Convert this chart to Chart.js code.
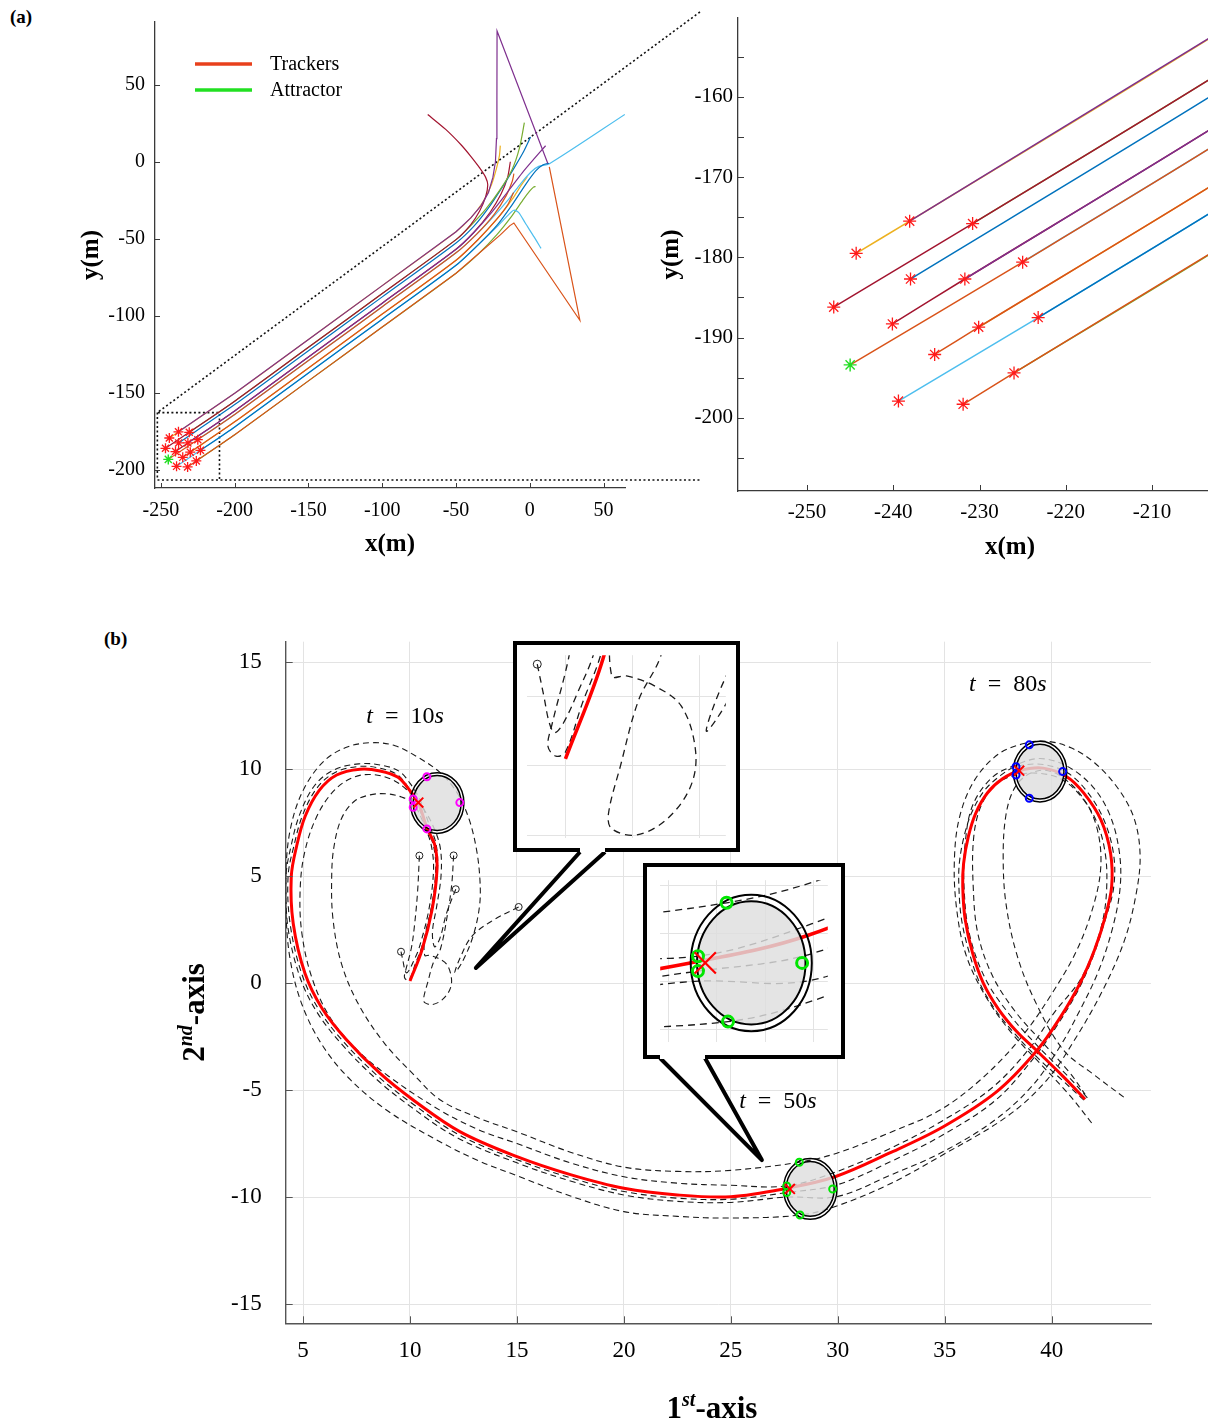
<!DOCTYPE html>
<html>
<head>
<meta charset="utf-8">
<script src="https://cdn.jsdelivr.net/npm/chart.js@4.4.0/dist/chart.umd.min.js"></script>
<style>
  html, body { margin: 0; background: #fff; }
  body { position: relative; width: 1208px; height: 1423px; overflow: hidden; }
  canvas { position: absolute; }
  .panel { position: absolute; font: bold 19px 'Liberation Serif', 'Times New Roman', serif; }
</style>
</head>
<body>
<div class="panel" style="left:10px;top:6px">(a)</div>
<div class="panel" style="left:104px;top:628px">(b)</div>
<canvas id="trajChart" width="710" height="565" style="left:0;top:0"></canvas>
<canvas id="zoomChart" width="576" height="565" style="left:640px;top:0"></canvas>
<canvas id="loopChart" width="1108" height="823" style="left:100px;top:600px"></canvas>
<canvas id="inset1" width="227" height="211" style="left:513px;top:641px"></canvas>
<canvas id="inset2" width="202" height="196" style="left:643px;top:863px"></canvas>
<script>
// ---------------- (a) start positions ----------------
const trackerX = [-238.1, -244.3, -230.8, -246.9, -238.0, -231.7, -225.0, -240.1, -230.1, -235.2, -223.2, -239.4, -231.9, -226.0];
const trackerY = [-175.5, -179.5, -175.8, -186.2, -182.7, -182.7, -180.6, -188.3, -188.7, -192.1, -187.5, -197.9, -198.3, -194.4];
const attractorX = [-245.0];
const attractorY = [-193.4];

// ---------------- (a) trajectories (x, y in m) ----------------
const track1 = [[-238.1,-175.5],[-200,-150.5],[-150,-115.5],[-100,-80.5],[-50,-45.5],[-40,-36.5],[-33,-28.5],[-28,-20],[-25,-10],[-23.3,0],[-22.6,15],[-22.3,40],[-22.2,85],[12.2,-1.1]];
const track2 = [[-244.3,-179.5],[-238.1,-175.5],[-200,-150.5],[-150,-115.5],[-100,-80.5],[-50,-45.5],[-40,-36.5],[-32,-26.5],[-26,-15],[-22.5,-4],[-20.6,4],[-20,10.5]];
const track3 = [[-230.8,-175.8],[-200,-155.6],[-150,-120.6],[-100,-85.6],[-50,-50.6],[-40,-41.5],[-30,-31],[-20,-18],[-12,-5],[-7,9],[-3.7,25.4]];
const track4 = [[-246.9,-186.2],[-230.8,-175.8],[-200,-155.6],[-150,-120.6],[-100,-85.6],[-50,-50.6],[-40,-40.8],[-34,-32],[-30,-23],[-28.5,-15],[-30,-10],[-34,-4],[-40,3.5],[-46,10.4],[-57,21],[-69.2,30.7]];
const track5 = [[-238.0,-182.7],[-200,-157.8],[-150,-122.8],[-100,-87.8],[-50,-52.8],[-38,-42],[-28,-30],[-18,-15.5],[-10,-3],[-4,7],[0.5,16]];
const track6 = [[-231.7,-182.7],[-200,-161.9],[-150,-126.9],[-100,-91.9],[-50,-56.9],[-38,-46],[-26,-33],[-15,-19.5],[-5,-7],[3,2],[10.7,10.4]];
const track7 = [[-225.0,-180.6],[-200,-164.2],[-150,-129.2],[-100,-94.2],[-50,-59.2],[-36,-47],[-24,-35],[-14,-24],[-6,-14],[1,-6.5],[6,-3],[13,-1.5],[64.4,30.7]];
const track8 = [[-240.1,-188.3],[-231.7,-182.7],[-200,-161.9],[-150,-126.9],[-100,-91.9],[-50,-56.9],[-38,-46],[-27,-33],[-19.5,-21],[-15,-10],[-13.2,0]];
const track9 = [[-245.0,-193.4],[-225.0,-180.6],[-200,-164.2],[-150,-129.2],[-100,-94.2],[-50,-59.2],[-36,-47],[-24,-34],[-16,-22],[-12,-13],[-10.8,-7.8]];
const track10 = [[-230.1,-188.7],[-200,-169.0],[-150,-134.0],[-100,-99.0],[-50,-64.0],[-35,-50.5],[-22,-37],[-12,-24.5],[-6,-15.5],[-1.6,-9.6]];
const track11 = [[-235.2,-192.1],[-230.1,-188.7],[-200,-169.0],[-150,-134.0],[-100,-99.0],[-50,-64.0],[-35,-50.5],[-23,-38],[-15,-28],[-11,-20]];
const track12 = [[-223.2,-187.5],[-200,-172.3],[-150,-137.3],[-100,-102.3],[-50,-67.3],[-35,-54],[-22,-41],[-12,-28],[-3,-15],[4,-6],[9,-2],[13,-1]];
const track13 = [[-239.4,-197.9],[-223.2,-187.5],[-200,-172.3],[-150,-137.3],[-100,-102.3],[-50,-67.3],[-35,-54],[-22,-42],[-15,-35],[-10.9,-31.5],[-7.5,-33],[-3,-40],[3,-49],[7.6,-56.3]];
const track14 = [[-231.9,-198.3],[-226.0,-194.4],[-200,-177.4],[-150,-142.4],[-100,-107.4],[-50,-72.4],[-35,-60],[-20,-47.5],[-13.5,-41.5],[-10.8,-39.8],[33.9,-103],[13.2,-3.4]];
const track15 = [[-226.0,-194.4],[-200,-177.4],[-150,-142.4],[-100,-107.4],[-50,-72.4],[-35,-60],[-22,-47],[-12,-35],[-4,-24],[0,-19],[2.5,-16.5],[3.9,-16.1]];

// zoom window of the right panel, and the far ends of its guide lines
const zoomBoxX = [-252.4, -210.3];
const zoomBoxY = [-206.8, -163.0];
const guideEnd = [115.3, 97.3];

// ---------------- (b) data ----------------
const targetPath = [[10.0,0.1],[10.56,1.55],[11.03,3.42],[11.26,5.27],[11.17,6.42],[10.79,7.26],[10.39,8.44],[10.0,8.99],[9.44,9.62],[8.6,9.92],[7.66,10.0],[6.57,9.73],[5.75,9.0],[5.1,7.8],[4.7,6.4],[4.45,4.98],[4.54,2.8],[5.09,0.46],[5.9,-1.2],[7.04,-2.66],[8.59,-4.21],[10.15,-5.46],[12.33,-6.94],[15.0,-8.11],[17.5,-8.95],[20.0,-9.59],[22.5,-9.9],[25.0,-9.98],[27.61,-9.59],[29.87,-9.05],[32.4,-7.95],[34.93,-6.71],[37.43,-5.07],[39.3,-3.16],[40.4,-1.6],[41.3,-0.05],[42.0,1.55],[42.5,3.1],[42.8,4.51],[42.75,6.07],[42.3,7.63],[41.5,8.88],[40.7,9.65],[39.6,10.05],[38.48,9.93],[37.7,9.55],[37.0,8.9],[36.45,7.95],[36.1,6.85],[35.88,5.6],[35.84,4.51],[35.95,3.0],[36.3,1.4],[36.8,0.0],[37.5,-1.2],[38.35,-2.25],[39.3,-3.16],[40.54,-4.37],[41.56,-5.43]];

const follower1 = [[10.44,5.96],[10.35,4.2],[10.2,2.6],[10.06,1.62],[9.8,0.6],[9.74,0.28],[9.86,0.14],[10.0,0.2],[10.25,0.9],[10.53,1.62],[10.98,3.42],[11.2,5.27],[11.1,6.42],[10.75,7.3],[10.32,8.45],[9.95,9.1],[9.4,9.75],[8.58,10.05],[7.62,10.13],[6.5,9.85],[5.65,9.12],[4.98,7.85],[4.57,6.4],[4.3,4.98],[4.4,2.75],[4.96,0.38],[5.78,-1.3],[6.93,-2.78],[8.5,-4.35],[10.07,-5.6],[12.27,-7.08],[15.0,-8.25],[17.5,-9.1],[20.0,-9.74],[22.5,-10.05],[25.0,-10.1],[27.61,-9.79],[29.95,-9.43],[32.45,-8.35],[34.9,-7.1],[37.4,-5.45],[39.2,-3.45],[40.3,-1.9],[41.25,-0.3],[41.95,1.3],[42.5,2.96],[42.9,4.51],[42.88,6.1],[42.4,7.72],[41.6,9.02],[40.75,9.82],[39.6,10.22],[38.33,10.12],[37.6,9.7],[36.85,9.0],[36.25,7.95],[35.9,6.85],[35.68,5.6],[35.66,4.51],[35.78,3.0],[36.15,1.4],[36.66,-0.05],[37.4,-1.3],[38.3,-2.4],[39.3,-3.45],[40.45,-4.5],[41.6,-5.55]];
const follower2 = [[12.04,5.97],[11.95,4.6],[11.75,3.2],[11.43,1.62],[11.09,0.95],[10.82,0.0],[10.64,-0.7],[10.69,-0.91],[11.05,-1.0],[11.5,-0.78],[11.86,-0.31],[11.94,0.21],[11.73,0.86],[11.32,1.16],[10.91,1.3],[10.69,1.3],[10.7,2.2],[11.0,3.5],[11.28,5.2],[11.22,6.5],[10.9,7.4],[10.5,8.5],[10.1,9.2],[9.5,9.9],[8.6,10.2],[7.6,10.25],[6.45,9.97],[5.55,9.25],[4.85,7.9],[4.45,6.45],[4.2,4.98],[4.28,2.7],[4.85,0.3],[5.68,-1.4],[6.85,-2.9],[8.42,-4.48],[10.0,-5.75],[12.2,-7.22],[15.0,-8.4],[17.5,-9.25],[20.0,-9.9],[22.5,-10.2],[25.0,-10.25],[27.61,-10.0],[29.95,-9.98],[32.4,-9.0],[34.78,-7.95],[37.2,-6.5],[39.0,-4.9],[40.3,-3.1],[41.3,-1.3],[42.2,0.6],[42.85,2.6],[43.2,4.5],[43.15,6.2],[42.7,7.9],[41.9,9.2],[40.7,10.15],[39.45,10.5],[38.33,10.2],[37.2,9.6],[36.3,8.3],[35.95,6.5],[35.9,4.5],[36.15,2.3],[36.9,0.2],[38.05,-1.5],[39.4,-3.0],[40.9,-4.5],[41.7,-5.4]];
const follower3 = [[12.14,4.39],[11.71,3.27],[11.4,2.1],[11.15,1.7],[11.05,2.4],[11.25,3.6],[11.45,5.0],[11.42,6.3],[11.1,7.3],[10.6,8.2],[10.0,8.9],[9.2,9.5],[8.2,9.75],[7.3,9.6],[6.4,8.95],[5.6,7.7],[5.05,6.0],[4.86,4.2],[4.95,2.3],[5.4,0.3],[6.2,-1.5],[7.4,-3.0],[9.0,-4.35],[11.4,-5.94],[13.2,-6.85],[15.0,-7.5],[17.5,-8.4],[20.0,-9.05],[22.5,-9.35],[25.0,-9.45],[27.61,-9.48],[29.95,-8.81],[32.4,-7.75],[34.78,-6.5],[37.2,-4.9],[39.0,-3.0],[40.1,-1.4],[41.3,0.1],[41.95,1.5],[42.4,3.0],[42.57,4.5],[42.5,6.07],[42.1,7.55],[41.35,8.75],[40.51,9.5],[39.5,9.8],[38.33,9.73],[37.4,9.3],[36.7,8.3],[36.35,6.8],[36.33,4.5],[36.55,2.3],[37.25,0.3],[38.35,-1.4],[39.6,-2.8],[40.85,-4.2],[41.56,-5.2]];
const follower4 = [[9.58,1.47],[9.68,1.0],[9.76,0.62],[9.84,0.48],[9.97,0.62],[10.2,1.1],[10.42,1.62],[10.88,3.42],[11.1,5.27],[11.0,6.42],[10.7,7.3],[10.15,8.41],[9.6,8.7],[8.9,8.85],[8.13,8.8],[7.4,8.5],[6.8,7.7],[6.45,6.4],[6.34,5.0],[6.4,3.0],[6.8,0.9],[7.6,-1.0],[8.8,-2.8],[10.2,-4.3],[11.4,-5.45],[13.2,-6.3],[15.0,-6.95],[17.5,-7.9],[20.0,-8.6],[22.5,-8.8],[25.0,-8.75],[28.2,-8.37],[29.95,-7.95],[32.4,-7.0],[34.78,-5.93],[36.8,-4.4],[38.6,-2.5],[40.0,-0.5],[41.2,1.6],[42.0,3.8],[42.3,5.6],[42.1,7.3],[41.5,8.6],[40.6,9.55],[39.7,9.95],[38.8,9.7],[38.2,9.0],[37.85,7.8],[37.73,6.0],[37.85,3.8],[38.35,1.4],[39.2,-0.8],[40.54,-3.12],[42.0,-4.3],[43.5,-5.43]];
const follower5 = [[15.08,3.56],[13.9,2.95],[12.9,2.2],[12.35,1.2],[12.1,0.5],[12.45,1.0],[12.95,2.2],[13.25,3.6],[13.27,4.83],[13.1,6.3],[12.75,7.7],[12.2,8.9],[11.4,9.85],[10.3,10.6],[9.3,11.1],[8.27,11.24],[7.1,11.05],[6.0,10.4],[5.05,9.1],[4.45,7.4],[4.2,5.4],[4.2,3.3],[4.4,1.1],[4.95,-1.0],[5.9,-2.9],[7.2,-4.5],[9.0,-6.0],[11.4,-7.41],[13.2,-8.3],[15.0,-9.0],[17.5,-9.95],[20.0,-10.68],[22.5,-10.9],[25.0,-10.98],[28.23,-10.84],[30.0,-10.4],[32.4,-9.4],[34.78,-8.1],[37.9,-6.24],[39.77,-4.53],[41.1,-2.6],[42.4,-0.3],[43.4,2.0],[43.95,4.2],[44.13,6.0],[43.85,7.7],[43.1,9.1],[42.0,10.3],[40.9,11.0],[39.8,11.3],[38.7,11.2],[37.5,10.7],[36.4,9.5],[35.7,7.8],[35.45,5.8],[35.55,3.5],[36.0,1.3],[36.9,-0.6],[38.1,-2.3],[39.5,-3.8],[40.8,-5.2],[41.94,-6.63]];
const followerPaths = [follower1, follower2, follower3, follower4, follower5];

const obstacleX = [11.27, 28.71, 39.45];
const obstacleY = [8.42, -9.62, 9.89];
const targetX = [10.39, 27.76, 38.48];
const targetY = [8.44, -9.62, 9.93];
const formation10 = [[10.79,9.65],[10.15,8.61],[10.15,8.22],[12.33,8.44],[10.79,7.21]];
const formation50 = [[28.2,-8.37],[27.61,-9.48],[27.61,-9.79],[29.76,-9.62],[28.23,-10.84]];
const formation80 = [[38.95,11.14],[38.33,10.12],[38.33,9.73],[40.51,9.89],[38.95,8.64]];
const timeLabels = ['10', '50', '80'];

// ---------------- styling ----------------
const SERIF = "'Liberation Serif', 'Times New Roman', serif";
Chart.defaults.font.family = SERIF;
Chart.defaults.color = '#000';

const BLUE = '#0072BD', ORANGE = '#D95319', YELLOW = '#EDB120', PURPLE = '#7E2F8E',
      GREEN = '#77AC30', LIGHTBLUE = '#4DBEEE', DARKRED = '#A2142F';
// earlier entries are painted on top
const tracks = [track1, track4, track6, track9, track11, track12, track14, track2, track3, track5, track7, track8, track10, track13, track15];
const trackColors = [PURPLE, DARKRED, PURPLE, ORANGE, ORANGE, BLUE, ORANGE, YELLOW, GREEN, BLUE, LIGHTBLUE, DARKRED, YELLOW, LIGHTBLUE, GREEN];
const sharpTracks = [track1, track14];

const OBSTACLE_INNER = [1.12, 1.28];
const OBSTACLE_OUTER = [1.25, 1.42];
const timeLabelPos = [[9.77, 12.16], [27.2, -5.84], [37.95, 13.67]];

const pts = arr => arr.map(([x, y]) => ({x, y}));
const xy = (xs, ys) => xs.map((x, i) => ({x, y: ys[i]}));

function richText(ctx, parts, x, y) {
    let w = 0;
    parts.forEach(p => { ctx.font = p.font; w += ctx.measureText(p.text).width; });
    let cx = x - w / 2;
    parts.forEach(p => {
        ctx.font = p.font;
        ctx.fillText(p.text, cx, y - (p.rise || 0));
        cx += ctx.measureText(p.text).width;
    });
}

// ---------------- plugins ----------------
const inTicks = {
    id: 'inTicks',
    afterDatasetsDraw(chart, args, o) {
        if (!o.len) return;
        const {ctx, chartArea: a, scales: {x, y}} = chart;
        ctx.save();
        ctx.strokeStyle = o.color;
        ctx.lineWidth = 1;
        ctx.beginPath();
        x.ticks.forEach(t => {
            const p = Math.round(x.getPixelForValue(t.value)) + 0.5;
            ctx.moveTo(p, a.bottom); ctx.lineTo(p, a.bottom - o.len);
        });
        y.ticks.forEach(t => {
            const p = Math.round(y.getPixelForValue(t.value)) + 0.5;
            ctx.moveTo(a.left, p); ctx.lineTo(a.left + o.len, p);
        });
        ctx.stroke();
        ctx.restore();
    }
};

const axisTitles = {
    id: 'axisTitles',
    afterDraw(chart, args, o) {
        if (!o.x) return;
        const {ctx, chartArea: a} = chart;
        ctx.save();
        ctx.fillStyle = '#000';
        ctx.textAlign = 'left';
        ctx.textBaseline = 'alphabetic';
        const cx = o.x.cx != null ? a.left + o.x.cx : (a.left + a.right) / 2;
        richText(ctx, o.x.parts, cx, a.bottom + o.x.dy);
        ctx.translate(a.left - o.y.dx, (a.top + a.bottom) / 2 + (o.y.dc || 0));
        ctx.rotate(-Math.PI / 2);
        richText(ctx, o.y.parts, 0, 0);
        ctx.restore();
    }
};

const trackLegend = {
    id: 'trackLegend',
    afterDraw(chart, args, o) {
        if (!o.items) return;
        const {ctx, chartArea: a} = chart;
        ctx.save();
        o.items.forEach((it, i) => {
            const y = a.top + o.top + i * o.gap;
            ctx.strokeStyle = it.color;
            ctx.lineWidth = 3.5;
            ctx.beginPath();
            ctx.moveTo(a.left + o.left, y);
            ctx.lineTo(a.left + o.left + o.len, y);
            ctx.stroke();
            ctx.fillStyle = '#000';
            ctx.font = `20px ${SERIF}`;
            ctx.textBaseline = 'middle';
            ctx.fillText(it.label, a.left + o.left + o.len + 18, y + 1);
        });
        ctx.restore();
    }
};

function drawObstacles(chart, lw) {
    const {ctx, chartArea: a, scales: {x, y}} = chart;
    ctx.save();
    ctx.beginPath();
    ctx.rect(a.left, a.top, a.right - a.left, a.bottom - a.top);
    ctx.clip();
    obstacleX.forEach((ox, i) => {
        const oy = obstacleY[i];
        const cx = x.getPixelForValue(ox), cy = y.getPixelForValue(oy);
        const radii = r => [Math.abs(x.getPixelForValue(ox + r[0]) - cx), Math.abs(y.getPixelForValue(oy + r[1]) - cy)];
        const [ri, rj] = radii(OBSTACLE_INNER);
        const [ro, rk] = radii(OBSTACLE_OUTER);
        ctx.beginPath();
        ctx.ellipse(cx, cy, ri, rj, 0, 0, Math.PI * 2);
        ctx.fillStyle = 'rgba(222,222,222,0.82)';
        ctx.fill();
        ctx.lineWidth = lw;
        ctx.strokeStyle = '#000';
        ctx.stroke();
        ctx.beginPath();
        ctx.ellipse(cx, cy, ro, rk, 0, 0, Math.PI * 2);
        ctx.stroke();
    });
    ctx.restore();
}

const obstacles = {
    id: 'obstacles',
    afterDatasetDraw(chart, args, o) {
        if (chart.data.datasets[args.index].isTarget) drawObstacles(chart, o.lw || 1.5);
    }
};

const callouts = {
    id: 'callouts',
    afterDraw(chart, args, o) {
        if (!o.items) return;
        const {ctx, scales: {x, y}} = chart;
        ctx.save();
        o.items.forEach(c => {
            const tx = x.getPixelForValue(c.tip[0]), ty = y.getPixelForValue(c.tip[1]);
            const by = c.base[2] - o.offset[1];
            const b1x = c.base[0] - o.offset[0], b2x = c.base[1] - o.offset[0];
            ctx.beginPath();
            ctx.moveTo(b1x, by); ctx.lineTo(tx, ty); ctx.lineTo(b2x, by); ctx.closePath();
            ctx.fillStyle = '#fff';
            ctx.fill();
            ctx.beginPath();
            ctx.moveTo(b1x, by); ctx.lineTo(tx, ty); ctx.lineTo(b2x, by);
            ctx.lineWidth = 4;
            ctx.lineJoin = 'round';
            ctx.strokeStyle = '#000';
            ctx.stroke();
        });
        ctx.restore();
    }
};

const timeStamps = {
    id: 'timeStamps',
    afterDraw(chart, args, o) {
        if (!o.show) return;
        const {ctx, scales: {x, y}} = chart;
        ctx.save();
        ctx.fillStyle = '#000';
        ctx.textAlign = 'left';
        ctx.textBaseline = 'alphabetic';
        const it = `italic 24px ${SERIF}`, rm = `24px ${SERIF}`;
        timeLabels.forEach((t, i) => {
            richText(ctx, [{text: 't', font: it}, {text: '\u2002=\u2002' + t, font: rm}, {text: 's', font: it}],
                x.getPixelForValue(timeLabelPos[i][0]), y.getPixelForValue(timeLabelPos[i][1]));
        });
        ctx.restore();
    }
};

const insetFrame = {
    id: 'insetFrame',
    beforeDraw(chart) {
        const {ctx, width, height} = chart;
        ctx.save();
        ctx.fillStyle = '#fff';
        ctx.fillRect(0, 0, width, height);
        ctx.restore();
    },
    afterDraw(chart, args, o) {
        const {ctx, width: w, height: h} = chart;
        ctx.save();
        ctx.strokeStyle = '#000';
        ctx.lineWidth = 4;
        ctx.lineJoin = 'miter';
        ctx.beginPath();
        ctx.moveTo(o.gap[0], h - 2);
        ctx.lineTo(2, h - 2); ctx.lineTo(2, 2); ctx.lineTo(w - 2, 2); ctx.lineTo(w - 2, h - 2);
        ctx.lineTo(o.gap[1], h - 2);
        ctx.stroke();
        ctx.restore();
    }
};

// ---------------- dataset builders ----------------
function trajDatasets(markerR, lineW) {
    const ds = [
        {data: xy(attractorX, attractorY), pointStyle: 'star', pointRadius: markerR, pointBorderWidth: 1.4, pointBorderColor: '#22dd22', pointBackgroundColor: '#22dd22'},
        {data: xy(trackerX, trackerY), pointStyle: 'star', pointRadius: markerR, pointBorderWidth: 1.3, pointBorderColor: '#ff1a1a', pointBackgroundColor: '#ff1a1a'},
    ];
    tracks.forEach((t, i) => ds.push({
        data: pts(t), showLine: true, borderColor: trackColors[i], borderWidth: lineW,
        pointRadius: 0, tension: sharpTracks.includes(t) ? 0 : 0.25
    }));
    return ds;
}

function guideDatasets() {
    const style = {showLine: true, borderColor: '#111', borderWidth: 1.6, borderDash: [2, 2.5], pointRadius: 0, clip: false};
    return [
        {...style, data: [{x: guideEnd[0], y: guideEnd[1]}, {x: zoomBoxX[0], y: zoomBoxY[1]}, {x: zoomBoxX[1], y: zoomBoxY[1]}, {x: zoomBoxX[1], y: zoomBoxY[0]}]},
        {...style, data: [{x: zoomBoxX[0], y: zoomBoxY[1]}, {x: zoomBoxX[0], y: zoomBoxY[0]}, {x: guideEnd[0], y: zoomBoxY[0]}]},
    ];
}

function loopDatasets(s) {
    const ring = (list, color) => ({
        data: pts(list), pointStyle: 'circle', pointRadius: s.ringR, pointBorderWidth: s.ringW,
        pointBorderColor: color, pointBackgroundColor: 'rgba(0,0,0,0)', order: 0
    });
    const ds = [
        {data: xy(targetX, targetY), pointStyle: 'crossRot', pointRadius: s.xR, pointBorderWidth: s.xW, pointBorderColor: '#ff0000', order: 0},
        ring(formation10, '#ff00ff'),
        ring(formation50, '#00e600'),
        ring(formation80, '#0000ff'),
        {data: followerPaths.map(p => ({x: p[0][0], y: p[0][1]})), pointStyle: 'circle', pointRadius: s.startR, pointBorderWidth: 1,
         pointBorderColor: '#222', pointBackgroundColor: 'rgba(0,0,0,0)', order: 0},
        {data: pts(targetPath), showLine: true, borderColor: '#ff0000', borderWidth: s.redW, pointRadius: 0, tension: 0.35, order: 1, isTarget: true},
    ];
    followerPaths.forEach(p => ds.push({
        data: pts(p), showLine: true, borderColor: '#1a1a1a', borderWidth: s.lineW, borderDash: s.dash,
        pointRadius: 0, tension: 0.35, order: 2
    }));
    return ds;
}

function axis(min, max, step, size, pad, extra) {
    return Object.assign({
        type: 'linear', min, max,
        grid: {display: false, drawTicks: false},
        border: {display: true, color: '#3a3a3a', width: 1.3},
        ticks: {stepSize: step, includeBounds: false, autoSkip: false, maxRotation: 0,
                font: {size, family: SERIF}, color: '#000', padding: pad},
    }, extra);
}

const base = {animation: false, responsive: false, events: []};
const quiet = {legend: {display: false}, tooltip: {enabled: false}};
const bold25 = `bold 25px ${SERIF}`;

// ---------------- (a) left: full trajectories ----------------
new Chart(document.getElementById('trajChart'), {
    type: 'scatter',
    data: {datasets: [...trajDatasets(5, 1.2), ...guideDatasets()]},
    options: {
        ...base,
        layout: {padding: {left: 0, top: 18, right: 85, bottom: 0}},
        scales: {
            x: axis(-254, 64.5, 50, 20, 11, {afterFit: s => { s.height = 77; }}),
            y: axis(-212, 90.8, 50, 20, 10, {afterFit: s => { s.width = 155; }}),
        },
        plugins: {
            ...quiet,
            inTicks: {len: 5, color: '#3a3a3a'},
            axisTitles: {x: {parts: [{text: 'x(m)', font: bold25}], dy: 63},
                         y: {parts: [{text: 'y(m)', font: bold25}], dx: 57}},
            trackLegend: {left: 40, len: 57, top: 42, gap: 26,
                          items: [{label: 'Trackers', color: '#e8401c'}, {label: 'Attractor', color: '#22e022'}]},
        },
    },
    plugins: [inTicks, axisTitles, trackLegend],
});

// ---------------- (a) right: zoom on the start ----------------
const zoomY = axis(-209.1, -150.2, 5, 21, 5, {afterFit: s => { s.width = 98; }});
zoomY.ticks.callback = v => (v % 10 === 0 ? v : '');
new Chart(document.getElementById('zoomChart'), {
    type: 'scatter',
    data: {datasets: trajDatasets(6.5, 1.5)},
    options: {
        ...base,
        layout: {padding: {left: 0, top: 18, right: 0, bottom: 0}},
        scales: {
            x: axis(-258, -203.5, 10, 21, 9, {afterFit: s => { s.height = 74; }}),
            y: zoomY,
        },
        plugins: {
            ...quiet,
            inTicks: {len: 6, color: '#3a3a3a'},
            axisTitles: {x: {parts: [{text: 'x(m)', font: bold25}], dy: 63, cx: 272},
                         y: {parts: [{text: 'y(m)', font: bold25}], dx: 60}},
        },
    },
    plugins: [inTicks, axisTitles],
});

// ---------------- (b) main loop chart ----------------
const gridAxis = (min, max, size, pad, extra) => axis(min, max, 5, size, pad, Object.assign({
    grid: {display: true, drawTicks: false, color: '#e3e3e3', lineWidth: 1},
    border: {display: true, color: '#555', width: 1.4},
}, extra));
const bold31 = `bold 31px ${SERIF}`, sup = `bold italic 20px ${SERIF}`;

new Chart(document.getElementById('loopChart'), {
    type: 'scatter',
    data: {datasets: loopDatasets({lineW: 1.1, redW: 3, dash: [6, 4], ringR: 3.5, ringW: 2, xR: 7, xW: 2, startR: 3.5})},
    options: {
        ...base,
        layout: {padding: {left: 0, top: 41.7, right: 57, bottom: 0}},
        scales: {
            x: gridAxis(4.19, 44.64, 23, 14, {afterFit: s => { s.height = 99.7; }}),
            y: gridAxis(-15.9, 15.96, 23, 24, {afterFit: s => { s.width = 185.7; }}),
        },
        plugins: {
            ...quiet,
            inTicks: {len: 7, color: '#555'},
            obstacles: {lw: 1.5},
            timeStamps: {show: true},
            callouts: {offset: [100, 600], items: [
                {base: [580, 605, 852], tip: [13.08, 0.71]},
                {base: [660, 705, 1058], tip: [26.45, -8.27]},
            ]},
            axisTitles: {
                x: {parts: [{text: '1', font: bold31}, {text: 'st', font: sup, rise: 12}, {text: '-axis', font: bold31}], dy: 95, cx: 426.3},
                y: {parts: [{text: '2', font: bold31}, {text: 'nd', font: sup, rise: 12}, {text: '-axis', font: bold31}], dx: 82, dc: 30},
            },
        },
    },
    plugins: [inTicks, obstacles, timeStamps, callouts, axisTitles],
});

// ---------------- (b) magnified insets ----------------
function insetChart(id, xr, yr, gap, sizes) {
    const g = (min, max) => ({
        type: 'linear', min, max,
        grid: {display: true, drawTicks: false, color: '#e3e3e3'},
        border: {display: false},
        ticks: {display: false, stepSize: 1, includeBounds: false},
        afterFit: s => { s.width = 0; s.height = 0; },
    });
    new Chart(document.getElementById(id), {
        type: 'scatter',
        data: {datasets: loopDatasets(sizes)},
        options: {
            ...base,
            layout: {padding: 4},
            scales: {x: g(xr[0], xr[1]), y: g(yr[0], yr[1])},
            plugins: {...quiet, obstacles: {lw: 2}, insetFrame: {gap}},
        },
        plugins: [obstacles, insetFrame],
    });
}
insetChart('inset1', [9.43, 12.39], [-1.04, 1.6], [67, 92],
    {lineW: 1.3, redW: 3.5, dash: [7, 5], ringR: 5, ringW: 2.5, xR: 12, xW: 2.2, startR: 4});
insetChart('inset2', [26.83, 30.29], [-11.26, -7.9], [17, 62],
    {lineW: 1.3, redW: 3.5, dash: [7, 5], ringR: 5.5, ringW: 3, xR: 15, xW: 2.2, startR: 4});
</script>
</body>
</html>
